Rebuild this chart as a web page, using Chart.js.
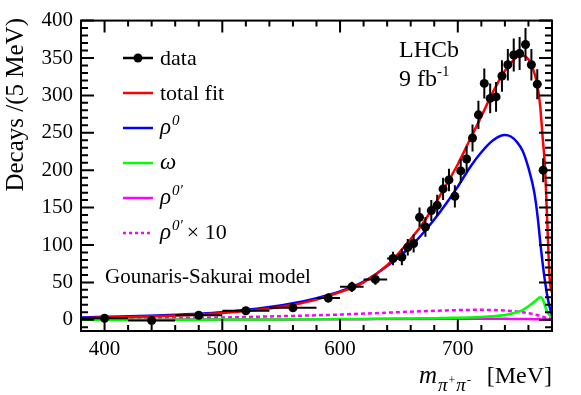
<!DOCTYPE html>
<html>
<head>
<meta charset="utf-8">
<script src="https://cdn.jsdelivr.net/npm/chart.js@4"></script>
<style>
  body { margin: 0; background: #fff; }
</style>
</head>
<body>
<canvas id="c" width="581" height="395"></canvas>
<script>
// data points (bin centre in MeV, decays per 5 MeV)
const massBins = [400, 440, 480, 520, 560, 590, 610, 630, 645, 652.5, 657.5, 662.5, 667.5, 672.5, 677.5, 682.5, 687.5,
	692.5, 697.5, 702.5, 707.5, 712.5, 717.5, 722.5, 727.5, 732.5, 737.5, 742.5, 747.5, 752.5, 757.5, 762.5, 767.5, 772.5];
const binHalfWidth = [20, 20, 20, 20, 20, 10, 10, 10, 5, 2.5, 2.5, 2.5, 2.5, 2.5, 2.5, 2.5, 2.5,
	2.5, 2.5, 2.5, 2.5, 2.5, 2.5, 2.5, 2.5, 2.5, 2.5, 2.5, 2.5, 2.5, 2.5, 2.5, 2.5, 2.5];
const counts = [2, -1, 6, 12, 16, 29, 44, 54, 82, 84, 97, 102, 137, 124, 146, 153, 175,
	187, 165, 199, 215, 243, 274, 316, 296, 298, 326, 341, 354, 356, 368, 341, 315, 200];
const countErrors = [4, 4, 4, 4, 5, 6, 7, 7, 9, 11, 11, 12, 13, 13, 14, 14, 15,
	15, 15, 16, 17, 18, 19, 20, 20, 20, 21, 21, 22, 22, 22, 21, 20, 16];

const curveMass = [380, 400, 450, 500, 540, 560, 580, 600, 620, 640, 660, 670, 680, 690, 700, 710, 720, 730,
	740, 745, 750, 755, 760, 765, 768, 770, 772, 774, 776, 778, 780];
const totalFit = [2, 3, 5, 9, 15, 20, 27, 37, 50, 73, 108, 128, 153, 180, 208, 240, 272, 305,
	333, 343, 351, 353, 348, 330, 310, 285, 245, 205, 130, 55, 36];
const rho0 = [3, 4, 6, 10, 17, 22, 29, 38, 51, 72, 98, 115, 134, 155, 178, 203, 224, 240,
	247, 245, 238, 226, 203, 170, 135, 104, 76, 52, 32, 17, 6];
const omega = [0, 0, 0, 0.3, 0.5, 0.6, 0.8, 1, 1.2, 1.5, 1.8, 2, 2.2, 2.5, 2.8, 3.2, 3.8, 4.8,
	6.5, 8, 10, 13, 18, 24, 28, 30, 28, 19, 10, 6, 4];
const rhoPrime = [0.05, 0.1, 0.2, 0.3, 0.45, 0.52, 0.6, 0.7, 0.83, 0.95, 1.08, 1.14, 1.2, 1.25, 1.29, 1.32, 1.33, 1.3,
	1.23, 1.18, 1.1, 1, 0.88, 0.72, 0.6, 0.52, 0.42, 0.32, 0.25, 0.18, 0.12];
const rhoPrimeX10 = [0.5, 1, 2, 3, 4.5, 5.2, 6, 7, 8.3, 9.5, 10.8, 11.4, 12, 12.5, 12.9, 13.2, 13.3, 13,
	12.3, 11.8, 11, 10, 8.8, 7.2, 6, 5.2, 4.2, 3.2, 2.5, 1.8, 1.2];

const xTickLabels = [400, 500, 600, 700];
const yTickLabels = [0, 50, 100, 150, 200, 250, 300, 350, 400];

const SERIF = '"Liberation Serif", "DejaVu Serif", serif';

function curve(values, color, dash) {
	return {
		type: 'line',
		data: curveMass.map((m, i) => ({ x: m, y: values[i] })),
		borderColor: color,
		borderWidth: 2.5,
		borderDash: dash || [],
		pointRadius: 0,
		cubicInterpolationMode: 'monotone',
		fill: false
	};
}

// draws text pieces one after another, returns x after
function drawRich(ctx, parts, x, y) {
	parts.forEach(p => {
		ctx.font = p.font;
		ctx.fillText(p.text, x, y + (p.dy || 0));
		x += ctx.measureText(p.text).width + (p.gap || 0);
	});
	return x;
}

const decorations = {
	id: 'decorations',
	afterDatasetsDraw(chart) {
		const { ctx, scales: { x, y } } = chart;
		ctx.save();
		ctx.strokeStyle = '#000';
		ctx.lineWidth = 2;
		massBins.forEach((m, i) => {
			const px = x.getPixelForValue(m);
			const py = y.getPixelForValue(counts[i]);
			ctx.beginPath();
			ctx.moveTo(px, y.getPixelForValue(counts[i] - countErrors[i]));
			ctx.lineTo(px, y.getPixelForValue(counts[i] + countErrors[i]));
			ctx.moveTo(x.getPixelForValue(m - binHalfWidth[i]), py);
			ctx.lineTo(x.getPixelForValue(m + binHalfWidth[i]), py);
			ctx.stroke();
		});
		ctx.restore();
	},
	afterDraw(chart) {
		const { ctx, chartArea: a, scales: { x, y } } = chart;
		ctx.save();
		ctx.strokeStyle = '#000';
		ctx.lineWidth = 2;
		ctx.strokeRect(a.left, a.top, a.right - a.left, a.bottom - a.top);

		ctx.beginPath();
		for (let v = -10; v <= 400; v += 10) {
			const py = y.getPixelForValue(v);
			const len = v % 50 === 0 ? 13 : 7;
			ctx.moveTo(a.left, py); ctx.lineTo(a.left + len, py);
			ctx.moveTo(a.right, py); ctx.lineTo(a.right - len, py);
		}
		for (let m = 380; m <= 780; m += 20) {
			const px = x.getPixelForValue(m);
			const len = m % 100 === 0 ? 12 : 6;
			ctx.moveTo(px, a.bottom); ctx.lineTo(px, a.bottom - len);
			ctx.moveTo(px, a.top); ctx.lineTo(px, a.top + len);
		}
		ctx.stroke();

		// legend
		ctx.fillStyle = '#000';
		ctx.textBaseline = 'alphabetic';
		const lx0 = 123, lx1 = 153, tx = 160;
		const rows = [58, 93, 128, 163, 198, 233];
		const norm = '22px ' + SERIF, ital = 'italic 23px ' + SERIF, sup = 'italic 15px ' + SERIF;
		const lines = [
			{ color: '#000', dash: [] },
			{ color: '#ff0000', dash: [] },
			{ color: '#0000ff', dash: [] },
			{ color: '#00ff00', dash: [] },
			{ color: '#ff00ff', dash: [] },
			{ color: '#ff00ff', dash: [3, 3] }
		];
		lines.forEach((l, i) => {
			ctx.strokeStyle = l.color;
			ctx.lineWidth = 2.5;
			ctx.setLineDash(l.dash);
			ctx.beginPath();
			ctx.moveTo(lx0, rows[i]); ctx.lineTo(lx1, rows[i]);
			ctx.stroke();
		});
		ctx.setLineDash([]);
		ctx.beginPath();
		ctx.arc((lx0 + lx1) / 2, rows[0], 4.5, 0, Math.PI * 2);
		ctx.fill();

		drawRich(ctx, [{ text: 'data', font: norm }], tx, rows[0] + 7);
		drawRich(ctx, [{ text: 'total fit', font: norm }], tx, rows[1] + 7);
		drawRich(ctx, [{ text: 'ρ', font: ital, gap: 1 }, { text: '0', font: sup, dy: -9 }], tx, rows[2] + 6);
		drawRich(ctx, [{ text: 'ω', font: ital }], tx, rows[3] + 6);
		drawRich(ctx, [{ text: 'ρ', font: ital, gap: 1 }, { text: '0′', font: sup, dy: -9 }], tx, rows[4] + 6);
		drawRich(ctx, [{ text: 'ρ', font: ital, gap: 1 }, { text: '0′', font: sup, dy: -9, gap: 4 },
			{ text: '× 10', font: norm }], tx, rows[5] + 6);

		// labels
		ctx.font = '24px ' + SERIF;
		ctx.fillText('LHCb', 399, 57);
		drawRich(ctx, [{ text: '9 fb', font: '24px ' + SERIF }, { text: '-1', font: '15px ' + SERIF, dy: -10 }], 399, 86);
		ctx.font = '21px ' + SERIF;
		ctx.fillText('Gounaris-Sakurai model', 105, 283);

		// x axis title
		ctx.textAlign = 'right';
		ctx.font = '24px ' + SERIF;
		ctx.fillText('[MeV]', 552, 383);
		ctx.textAlign = 'left';
		drawRich(ctx, [
			{ text: 'm', font: 'italic 25px ' + SERIF, gap: 1 },
			{ text: 'π', font: 'italic 19px ' + SERIF, dy: 8, gap: 1 },
			{ text: '+', font: '12px ' + SERIF, dy: 1, gap: 1 },
			{ text: 'π', font: 'italic 19px ' + SERIF, dy: 8, gap: 1 },
			{ text: '-', font: '13px ' + SERIF, dy: 1 }
		], 419, 383);

		// y axis title
		ctx.translate(23, 18);
		ctx.rotate(-Math.PI / 2);
		ctx.textAlign = 'right';
		ctx.font = '25px ' + SERIF;
		ctx.fillText('Decays /(5 MeV)', 0, 0);
		ctx.restore();
	}
};

const ctx = document.getElementById('c');
const chart = new Chart(ctx, {
	type: 'line',
	data: {
		datasets: [
			{
				type: 'line',
				data: massBins.map((m, i) => ({ x: m, y: counts[i] })),
				showLine: false,
				pointRadius: 4.5,
				pointBackgroundColor: '#000',
				pointBorderColor: '#000',
				pointBorderWidth: 0
			},
			curve(totalFit, '#ff0000'),
			curve(rho0, '#0000ff'),
			curve(omega, '#00ff00'),
			curve(rhoPrime, '#ff00ff'),
			curve(rhoPrimeX10, '#ff00ff', [4, 3])
		]
	},
	options: {
		responsive: false,
		devicePixelRatio: 1,
		animation: false,
		layout: { padding: { left: 0, right: 29, top: 19, bottom: 0 } },
		plugins: { legend: { display: false }, tooltip: { enabled: false } },
		scales: {
			x: {
				type: 'linear',
				min: 380,
				max: 780,
				afterFit: s => { s.height = 64; },
				afterBuildTicks: s => { s.ticks = xTickLabels.map(v => ({ value: v })); },
				grid: { display: false, drawTicks: false },
				border: { display: false },
				ticks: { color: '#000', font: { family: SERIF, size: 21 }, padding: 6, maxRotation: 0, autoSkip: false }
			},
			y: {
				type: 'linear',
				min: -15,
				max: 400,
				afterFit: s => { s.width = 81; },
				afterBuildTicks: s => { s.ticks = yTickLabels.map(v => ({ value: v })); },
				grid: { display: false, drawTicks: false },
				border: { display: false },
				ticks: { color: '#000', font: { family: SERIF, size: 21 }, padding: 8, autoSkip: false }
			}
		}
	},
	plugins: [decorations]
});
</script>
</body>
</html>
